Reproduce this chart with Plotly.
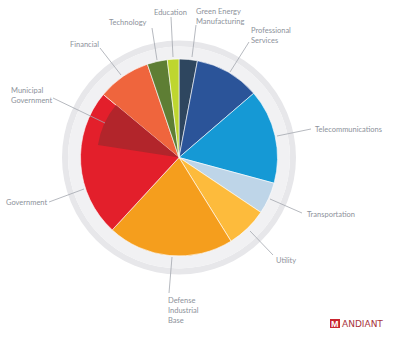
import plotly.graph_objects as go

W, H = 394, 337

# ---- data (share of targeted organisations, % of total, clockwise from 12 o'clock)
sectors = ["Green Energy Manufacturing", "Professional Services", "Telecommunications",
           "Transportation", "Utility", "Defense Industrial Base", "Government",
           "Financial", "Technology", "Education"]
shares = [3.0, 10.7, 15.5, 5.2, 6.75, 20.7, 24.2, 8.75, 3.3, 1.9]
colors = ["#2e465f", "#2b5499", "#1599d5", "#bed5e8", "#fdbb3c", "#f59e1d",
          "#e31f2b", "#ef653d", "#5e7e34", "#bed62f"]
# Municipal Government is a sub-part of Government (drawn as inner wedge at end of slice)
municipal_share = 8.6
municipal_color = "#b2252b"

label_color = "#8d929b"
line_color = "#a3a7ae"

# ---- layout geometry (pixels)
cx, cy = 179, 157.5
R = 98.5
R_ring_in = 111
R_ring = 117
R_muni = 82


def dom(r):
    return dict(x=[(cx - r) / W, (cx + r) / W], y=[1 - (cy + r) / H, 1 - (cy - r) / H])


def px(x, y):
    return x / W, 1 - y / H


fig = go.Figure()

# grey outer rings
fig.add_trace(go.Pie(values=[1], labels=["ring"], hole=R_ring_in / R_ring, sort=False,
                     marker=dict(colors=["#e7e7ea"], line=dict(width=0)),
                     textinfo="none", hoverinfo="skip", showlegend=False,
                     domain=dom(R_ring)))
fig.add_trace(go.Pie(values=[1], labels=["ring2"], hole=(R - 1) / R_ring_in, sort=False,
                     marker=dict(colors=["#f1f1f3"], line=dict(width=0)),
                     textinfo="none", hoverinfo="skip", showlegend=False,
                     domain=dom(R_ring_in)))

# main pie
fig.add_trace(go.Pie(values=shares, labels=sectors, sort=False, direction="clockwise",
                     rotation=0, marker=dict(colors=colors, line=dict(color="#ffffff", width=0.6)),
                     textinfo="none", showlegend=False, domain=dom(R)))

# municipal government inner wedge
gov_end = sum(shares[:sectors.index("Government") + 1])
before = gov_end - municipal_share
after = sum(shares) - gov_end
fig.add_trace(go.Pie(values=[before, municipal_share, after],
                     labels=["_a", "Municipal Government", "_b"], sort=False,
                     direction="clockwise", rotation=0,
                     marker=dict(colors=["rgba(0,0,0,0)", municipal_color, "rgba(0,0,0,0)"],
                                 line=dict(width=0)),
                     textinfo="none", showlegend=False, domain=dom(R_muni)))

# ---- labels: (text, x, y-of-first-line centre) and leader lines
labels = [
    ("Education", 153, 12),
    ("Technology", 108, 22),
    ("Financial", 69, 44),
    ("Municipal<br>Government", 10, 90),
    ("Green Energy<br>Manufacturing", 195, 11),
    ("Professional<br>Services", 250, 30),
    ("Telecommunications", 314, 129),
    ("Transportation", 306, 214),
    ("Utility", 275, 260),
    ("Defense<br>Industrial<br>Base", 167, 300),
    ("Government", 5, 202),
]
leaders = [
    ((171, 17), (173, 57)),
    ((152, 28), (157, 60)),
    ((100, 48), (121, 75)),
    ((53, 98), (105, 123)),
    ((196, 25), (192, 57)),
    ((249, 42), (230, 72)),
    ((311, 129), (277, 136)),
    ((302, 213), (270, 199)),
    ((273, 255), (250, 231)),
    ((169, 293), (172, 257)),
    ((49, 202), (84, 189)),
]

annotations = []
for t, x, y in labels:
    ax, ay = px(x, y - 5)
    annotations.append(dict(text=t, x=ax, y=ay, xref="paper", yref="paper",
                            xanchor="left", yanchor="top", align="left", showarrow=False,
                            borderpad=0,
                            font=dict(family="Lato", size=7.5, color=label_color)))

shapes = []
for (x0, y0), (x1, y1) in leaders:
    a0, b0 = px(x0, y0)
    a1, b1 = px(x1, y1)
    shapes.append(dict(type="line", xref="paper", yref="paper", x0=a0, y0=b0, x1=a1, y1=b1,
                       line=dict(color=line_color, width=0.8)))

# Mandiant logo
lx0, ly0 = px(330, 319)
lx1, ly1 = px(340, 328)
shapes.append(dict(type="rect", xref="paper", yref="paper", x0=lx0, y0=ly0, x1=lx1, y1=ly1,
                   fillcolor="#c9252f", line=dict(width=0)))
mx, my = px(335, 323.5)
annotations.append(dict(text="<b>M</b>", x=mx, y=my, xref="paper", yref="paper",
                        xanchor="center", yanchor="middle", showarrow=False, borderpad=0,
                        font=dict(family="Liberation Sans", size=9, color="#ffffff")))
tx, ty = px(341, 323.5)
annotations.append(dict(text="ANDIANT", x=tx, y=ty, xref="paper", yref="paper",
                        xanchor="left", yanchor="middle", showarrow=False, borderpad=0,
                        font=dict(family="DejaVu Sans", size=9, color="#a8343c")))

fig.update_layout(width=W, height=H, margin=dict(l=0, r=0, t=0, b=0),
                  paper_bgcolor="#ffffff", plot_bgcolor="#ffffff",
                  annotations=annotations, shapes=shapes)

fig.write_html("out.html")
